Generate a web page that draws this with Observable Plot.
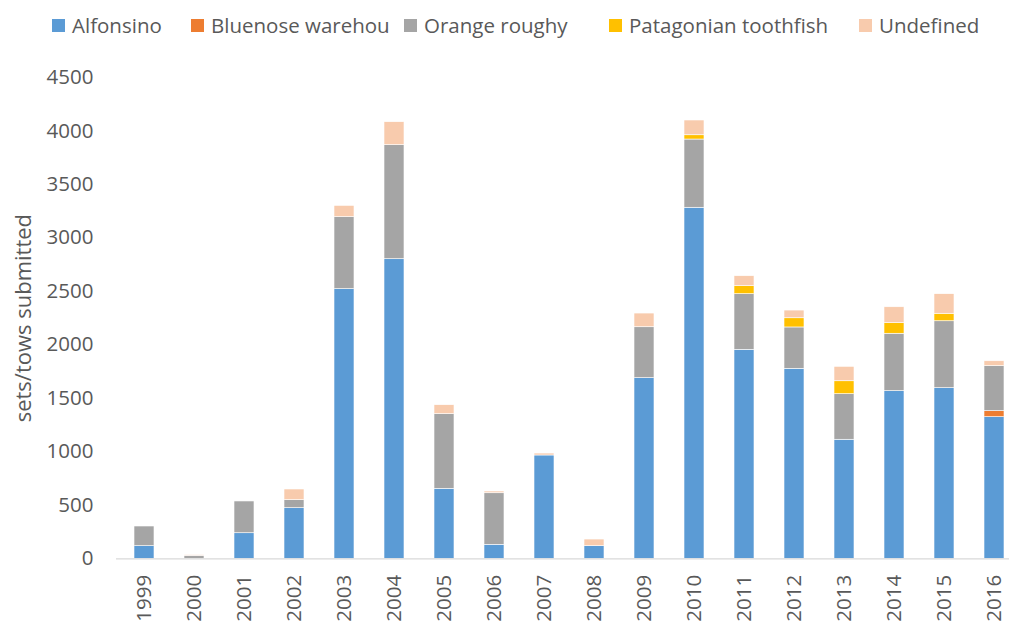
<!DOCTYPE html>
<html>
<head>
<meta charset="utf-8">
<script src="https://cdn.jsdelivr.net/npm/d3@7"></script>
<script src="https://cdn.jsdelivr.net/npm/@observablehq/plot@0.6"></script>
<style>
  body { margin: 0; background: #fff; font-family: "Open Sans", sans-serif; overflow: hidden; }
  #legend { position: relative; height: 50px; font-size: 20.5px; color: #595959; white-space: nowrap; }
  .item { position: absolute; top: 0; height: 50px; display: flex; align-items: center; }
  .sw { width: 13px; height: 13px; margin-right: 7px; flex: none; }
</style>
</head>
<body>
<div id="legend"></div>
<div id="chart"></div>
<script>
const years = ["1999","2000","2001","2002","2003","2004","2005","2006","2007","2008","2009","2010","2011","2012","2013","2014","2015","2016"];
const species = ["Alfonsino", "Bluenose warehou", "Orange roughy", "Patagonian toothfish", "Undefined"];
const colors = ["#5B9BD5", "#ED7D31", "#A5A5A5", "#FFC000", "#F8CBAD"];
const alfonsino  = [118, 0, 239, 473, 2521, 2801, 654, 131, 966, 118, 1689, 3282, 1954, 1776, 1113, 1567, 1595, 1324];
const bluenose   = [0, 0, 0, 0, 0, 0, 0, 0, 0, 0, 0, 0, 0, 0, 0, 0, 0, 56];
const orangeRoughy = [184, 28, 297, 75, 673, 1066, 698, 482, 0, 0, 476, 638, 520, 387, 426, 537, 626, 421];
const patagonian = [0, 0, 0, 0, 0, 0, 0, 0, 0, 0, 0, 40, 75, 86, 121, 99, 70, 0];
const undefinedSp = [0, 6, 0, 100, 106, 215, 84, 16, 18, 62, 128, 138, 93, 72, 135, 149, 183, 46];
const yTicks = [0, 500, 1000, 1500, 2000, 2500, 3000, 3500, 4000, 4500];
const yLabel = "sets/tows submitted";
const legendX = [52, 191, 404, 609, 859];

const series = [alfonsino, bluenose, orangeRoughy, patagonian, undefinedSp];
const rows = [];
species.forEach((s, i) => years.forEach((y, j) => rows.push({year: y, species: s, value: series[i][j]})));

// legend
const legend = document.getElementById("legend");
species.forEach((s, i) => {
  const it = document.createElement("div");
  it.className = "item";
  it.style.left = legendX[i] + "px";
  const sw = document.createElement("div");
  sw.className = "sw";
  sw.style.background = colors[i];
  const t = document.createElement("span");
  t.textContent = s;
  it.appendChild(sw); it.appendChild(t);
  legend.appendChild(it);
});

const chart = Plot.plot({
  width: 1009,
  height: 571,
  marginTop: 27,
  marginBottom: 62.7,
  marginLeft: 116,
  marginRight: 0,
  style: { fontFamily: "Open Sans, sans-serif", fontSize: "20px", color: "#595959", background: "white" },
  x: { domain: years, range: [116, 1022], paddingInner: 0.6, paddingOuter: 0.3, label: null },
  y: { domain: [0, 4500], label: null },
  color: { domain: species, range: colors },
  marks: [
    Plot.barY(rows, { x: "year", y: "value", fill: "species", order: species, stroke: "white", strokeWidth: 0.6 }),
    Plot.ruleY([0], { stroke: "#d9d9d9", strokeWidth: 1.3 }),
    Plot.axisY({ ticks: yTicks, tickFormat: d => String(d), tickSize: 0, tickPadding: 23, fontSize: 20.5, label: null }),
    Plot.axisY({ ticks: [], label: yLabel, labelAnchor: "center", labelArrow: "none", labelOffset: 101, fontSize: 22 }),
    Plot.axisX({ tickSize: 0, tickRotate: -90, tickPadding: 16, fontSize: 20.5, label: null })
  ]
});
document.getElementById("chart").appendChild(chart);
</script>
</body>
</html>
